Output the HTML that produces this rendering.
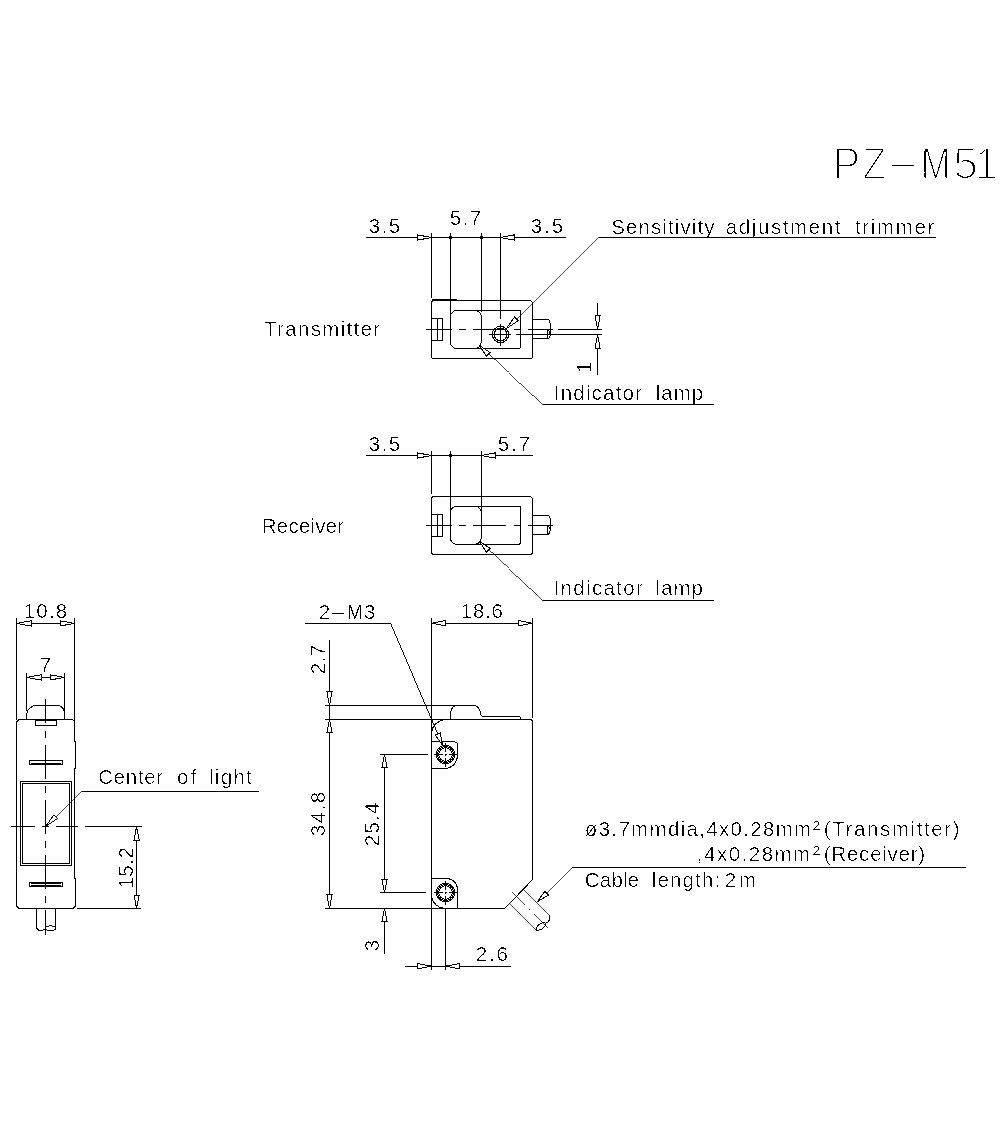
<!DOCTYPE html>
<html><head><meta charset="utf-8"><title>PZ-M51</title>
<style>
html,body{margin:0;padding:0;background:#fff}
svg{display:block}
.g line,.g path,.g circle,.g polygon,.g ellipse{stroke:#000;fill:none}
.g polygon{fill:#fff}
text{font-family:"Liberation Sans",sans-serif;fill:#000;stroke:#fff;stroke-width:0.62px;paint-order:fill stroke}
text.tt{stroke-width:2.5px}
</style></head><body>
<svg width="1000" height="1122" viewBox="0 0 1000 1122">
<rect x="0" y="0" width="1000" height="1122" fill="#fff"/>
<defs><filter id="th" x="0" y="0" width="1000" height="1122" filterUnits="userSpaceOnUse" color-interpolation-filters="sRGB">
<feColorMatrix type="matrix" values="0.33 0.34 0.33 0 0 0.33 0.34 0.33 0 0 0.33 0.34 0.33 0 0 0 0 0 1 0"/>
<feComponentTransfer><feFuncR type="discrete" tableValues="0 0 0 1"/><feFuncG type="discrete" tableValues="0 0 0 1"/><feFuncB type="discrete" tableValues="0 0 0 1"/></feComponentTransfer></filter></defs>
<g filter="url(#th)">
<rect x="0" y="0" width="1000" height="1122" fill="#fff"/>
<text class="tt" font-size="44"><tspan x="832.74" y="178.80" textLength="27.71" lengthAdjust="spacingAndGlyphs">P</tspan><tspan x="862.49" y="178.80" textLength="23.96" lengthAdjust="spacingAndGlyphs">Z</tspan><tspan x="883.84" y="176.80" textLength="38.32" lengthAdjust="spacingAndGlyphs">-</tspan><tspan x="920.81" y="178.80" textLength="29.88" lengthAdjust="spacingAndGlyphs">M</tspan><tspan x="952.94" y="178.80" textLength="25.23" lengthAdjust="spacingAndGlyphs">5</tspan><tspan x="975.26" y="178.80" textLength="22.58" lengthAdjust="spacingAndGlyphs">1</tspan></text>
<text class="t" font-size="20.5"><tspan x="318.66" y="618.90">2</tspan><tspan x="328.95" y="619.20" textLength="18.30" lengthAdjust="spacingAndGlyphs">-</tspan><tspan x="346.94" y="618.90" textLength="15.71" lengthAdjust="spacingAndGlyphs">M</tspan><tspan x="364.11" y="618.90">3</tspan></text>
<text class="t" x="368.80" y="232.50" font-size="20.5" textLength="31.40" lengthAdjust="spacing">3.5</text>
<text class="t" x="449.80" y="224.50" font-size="20.5" textLength="31.40" lengthAdjust="spacing">5.7</text>
<text class="t" x="530.80" y="232.50" font-size="20.5" textLength="32.40" lengthAdjust="spacing">3.5</text>
<text class="t" x="611.20" y="233.70" font-size="20.5" textLength="103.40" lengthAdjust="spacing">Sensitivity</text>
<text class="t" x="725.80" y="233.70" font-size="20.5" textLength="114.60" lengthAdjust="spacing">adjustment</text>
<text class="t" x="855.00" y="233.70" font-size="20.5" textLength="79.40" lengthAdjust="spacing">trimmer</text>
<text class="t" x="553.80" y="399.60" font-size="20.5" textLength="88.20" lengthAdjust="spacing">Indicator</text>
<text class="t" x="655.80" y="399.60" font-size="20.5" textLength="47.40" lengthAdjust="spacing">lamp</text>
<text class="t" x="553.60" y="595.40" font-size="20.5" textLength="89.20" lengthAdjust="spacing">Indicator</text>
<text class="t" x="655.60" y="595.40" font-size="20.5" textLength="47.40" lengthAdjust="spacing">lamp</text>
<text class="t" x="264.00" y="335.50" font-size="20.5" textLength="116.20" lengthAdjust="spacing">Transmitter</text>
<text class="t" x="261.80" y="532.50" font-size="20.5" textLength="82.40" lengthAdjust="spacing">Receiver</text>
<text class="t" x="368.80" y="450.50" font-size="20.5" textLength="31.40" lengthAdjust="spacing">3.5</text>
<text class="t" x="497.80" y="450.50" font-size="20.5" textLength="32.20" lengthAdjust="spacing">5.7</text>
<text class="t" x="23.80" y="617.60" font-size="20.5" textLength="43.40" lengthAdjust="spacing">10.8</text>
<text class="t" x="39.80" y="671.80" font-size="20.5">7</text>
<text class="t" x="98.20" y="783.60" font-size="20.5" textLength="65.00" lengthAdjust="spacing">Center</text>
<text class="t" x="177.00" y="783.60" font-size="20.5" textLength="19.40" lengthAdjust="spacing">of</text>
<text class="t" x="209.00" y="783.60" font-size="20.5" textLength="42.80" lengthAdjust="spacing">light</text>
<text class="t" x="460.80" y="617.60" font-size="20.5" textLength="42.20" lengthAdjust="spacing">18.6</text>
<text class="t" x="475.80" y="960.50" font-size="20.5" textLength="32.20" lengthAdjust="spacing">2.6</text>
<text class="t" x="584.80" y="835.70" font-size="20.5" textLength="226.40" lengthAdjust="spacing">ø3.7mmdia,4x0.28mm</text>
<text class="t" x="823.80" y="835.70" font-size="20.5" textLength="135.80" lengthAdjust="spacing">(Transmitter)</text>
<text class="t" x="696.80" y="860.90" font-size="20.5" textLength="113.40" lengthAdjust="spacing">,4x0.28mm</text>
<text class="t" x="823.80" y="860.90" font-size="20.5" textLength="101.40" lengthAdjust="spacing">(Receiver)</text>
<text class="t" x="584.80" y="887.40" font-size="20.5" textLength="54.40" lengthAdjust="spacing">Cable</text>
<text class="t" x="651.80" y="887.40" font-size="20.5" textLength="68.40" lengthAdjust="spacing">length:</text>
<text class="t" x="724.80" y="887.40" font-size="20.5" textLength="31.40" lengthAdjust="spacing">2m</text>
<text class="t" x="812.80" y="835.60" font-size="22.5">²</text>
<text class="t" x="812.80" y="860.80" font-size="22.5">²</text>
<text class="t" transform="translate(591.30 373.00) rotate(-90)" font-size="20.5">1</text>
<text class="t" transform="translate(132.80 888.60) rotate(-90)" font-size="20.5" textLength="41.60" lengthAdjust="spacing">15.2</text>
<text class="t" transform="translate(325.00 674.20) rotate(-90)" font-size="20.5" textLength="29.40" lengthAdjust="spacing">2.7</text>
<text class="t" transform="translate(325.00 836.20) rotate(-90)" font-size="20.5" textLength="44.40" lengthAdjust="spacing">34.8</text>
<text class="t" transform="translate(378.70 846.20) rotate(-90)" font-size="20.5" textLength="43.60" lengthAdjust="spacing">25.4</text>
<text class="t" transform="translate(378.70 951.20) rotate(-90)" font-size="20.5">3</text>
</g>
<g class="g" shape-rendering="crispEdges">
<path d="M431.4,302.1 L432.9,300.6 H530.5 L532.5,302.6 V356.1 Q532.5,358.6 530.0,358.6 H433.9 Q431.4,358.6 431.4,356.1 Z" stroke-width="1" />
<path d="M456.9,310.4 H519.0 Q520.5,310.4 520.5,311.9 V346.5 Q520.5,348.5 518.5,348.5 H456.9" stroke-width="1" />
<path d="M456.9,310.4 H474.8 A6.5,6.5 0 0 1 481.3,316.9 V342.0 A6.5,6.5 0 0 1 474.8,348.5 H456.9 A6.5,6.5 0 0 1 450.4,342.0 V316.9 A6.5,6.5 0 0 1 456.9,310.4 Z" stroke-width="1" />
<path d="M432.2,318.90000000000003 H442.4 V340.3 H432.2 M437.6,318.90000000000003 V340.3" stroke-width="1" />
<path d="M532.5,319.5 H547 Q550,319.5 550,322.5 V335.5 Q550,338.5 547,338.5 H532.5" stroke-width="1" />
<path d="M547,329.6 V338.5 M547,330.1 Q549.6,330.6 549.8,333.6" stroke-width="1" />
<path d="M431.4,497.90000000000003 L432.9,496.40000000000003 H530.5 L532.5,498.40000000000003 V551.9000000000001 Q532.5,554.4000000000001 530.0,554.4000000000001 H433.9 Q431.4,554.4000000000001 431.4,551.9000000000001 Z" stroke-width="1" />
<path d="M456.9,506.2 H519.0 Q520.5,506.2 520.5,507.7 V542.3 Q520.5,544.3 518.5,544.3 H456.9" stroke-width="1" />
<path d="M456.9,506.2 H474.8 A6.5,6.5 0 0 1 481.3,512.7 V537.8 A6.5,6.5 0 0 1 474.8,544.3 H456.9 A6.5,6.5 0 0 1 450.4,537.8 V512.7 A6.5,6.5 0 0 1 456.9,506.2 Z" stroke-width="1" />
<path d="M432.2,514.7 H442.4 V536.1000000000001 H432.2 M437.6,514.7 V536.1000000000001" stroke-width="1" />
<path d="M532.5,515.3000000000001 H547 Q550,515.3000000000001 550,518.3000000000001 V531.3000000000001 Q550,534.3000000000001 547,534.3000000000001 H532.5" stroke-width="1" />
<path d="M547,525.4000000000001 V534.3000000000001 M547,525.9000000000001 Q549.6,526.4000000000001 549.8,529.4000000000001" stroke-width="1" />
<line x1="432.40" y1="299.70" x2="456.60" y2="299.70" stroke-width="1.8" />
<line x1="426.00" y1="329.60" x2="451.50" y2="329.60" stroke-width="1" />
<line x1="459.00" y1="329.60" x2="465.80" y2="329.60" stroke-width="1" />
<line x1="473.20" y1="329.60" x2="506.20" y2="329.60" stroke-width="1" />
<line x1="514.40" y1="329.60" x2="520.00" y2="329.60" stroke-width="1" />
<line x1="528.00" y1="329.60" x2="552.60" y2="329.60" stroke-width="1" />
<line x1="557.50" y1="329.60" x2="602.00" y2="329.60" stroke-width="1" />
<line x1="426.00" y1="525.40" x2="451.50" y2="525.40" stroke-width="1" />
<line x1="459.00" y1="525.40" x2="465.80" y2="525.40" stroke-width="1" />
<line x1="473.20" y1="525.40" x2="506.20" y2="525.40" stroke-width="1" />
<line x1="513.80" y1="525.40" x2="519.80" y2="525.40" stroke-width="1" />
<line x1="528.00" y1="525.40" x2="552.80" y2="525.40" stroke-width="1" />
<circle cx="500.50" cy="334.50" r="8.10" stroke-width="1" />
<circle cx="500.50" cy="334.50" r="6.30" stroke-width="1" />
<line x1="489.00" y1="334.50" x2="510.50" y2="334.50" stroke-width="1" />
<line x1="500.50" y1="324.00" x2="500.50" y2="346.00" stroke-width="1" />
<line x1="516.00" y1="334.50" x2="602.00" y2="334.50" stroke-width="1" />
<line x1="366.00" y1="237.50" x2="417.70" y2="237.50" stroke-width="1" />
<line x1="431.30" y1="237.50" x2="500.60" y2="237.50" stroke-width="1" />
<line x1="514.20" y1="237.50" x2="566.00" y2="237.50" stroke-width="1" />
<polygon points="431.30,237.50 417.80,234.90 417.80,240.10" fill="#fff"/>
<polygon points="500.60,237.50 514.10,240.10 514.10,234.90" fill="#fff"/>
<circle cx="450.40" cy="237.50" r="1.40" stroke-width="1" fill="#000"/>
<circle cx="481.60" cy="237.50" r="1.40" stroke-width="1" fill="#000"/>
<line x1="431.30" y1="232.50" x2="431.30" y2="298.00" stroke-width="1" />
<line x1="450.40" y1="232.50" x2="450.40" y2="316.50" stroke-width="1" />
<line x1="481.50" y1="232.50" x2="481.50" y2="312.00" stroke-width="1" />
<line x1="500.50" y1="232.50" x2="500.50" y2="318.50" stroke-width="1" />
<line x1="597.60" y1="302.50" x2="597.60" y2="314.80" stroke-width="1" />
<line x1="597.60" y1="348.50" x2="597.60" y2="374.50" stroke-width="1" />
<polygon points="597.60,329.30 600.20,315.30 595.00,315.30" fill="#fff"/>
<polygon points="597.60,334.80 595.00,348.80 600.20,348.80" fill="#fff"/>
<line x1="599.00" y1="237.50" x2="935.60" y2="237.50" stroke-width="1" />
<line x1="599.00" y1="237.50" x2="516.30" y2="319.30" stroke-width="0.711" />
<polygon points="506.50,328.50 518.18,320.70 514.54,316.98" fill="#fff"/>
<line x1="487.50" y1="353.50" x2="542.50" y2="404.25" stroke-width="0.735" />
<line x1="542.50" y1="404.25" x2="713.50" y2="404.25" stroke-width="1" />
<polygon points="479.20,345.30 486.41,356.19 490.09,352.51" fill="#fff"/>
<line x1="487.50" y1="549.30" x2="542.50" y2="600.05" stroke-width="0.735" />
<line x1="542.50" y1="600.05" x2="713.50" y2="600.05" stroke-width="1" />
<polygon points="479.20,541.10 486.41,551.99 490.09,548.31" fill="#fff"/>
<line x1="366.00" y1="455.50" x2="417.70" y2="455.50" stroke-width="1" />
<line x1="431.30" y1="455.50" x2="481.60" y2="455.50" stroke-width="1" />
<line x1="495.20" y1="455.50" x2="532.50" y2="455.50" stroke-width="1" />
<polygon points="431.30,455.50 417.80,452.90 417.80,458.10" fill="#fff"/>
<polygon points="481.60,455.50 495.10,458.10 495.10,452.90" fill="#fff"/>
<circle cx="450.40" cy="455.50" r="1.40" stroke-width="1" fill="#000"/>
<line x1="431.30" y1="451.00" x2="431.30" y2="493.50" stroke-width="1" />
<line x1="450.40" y1="451.00" x2="450.40" y2="512.50" stroke-width="1" />
<line x1="481.50" y1="451.00" x2="481.50" y2="512.00" stroke-width="1" />
<path d="M16.5,722.0 L19.0,719.5 H72.0 L74.5,721.0 V741.5 H75.5 V768.5 H74.5 V878.5 H75.5 V906.0 L73.0,908.5 H19.0 L16.5,906.0 Z" stroke-width="1" />
<path d="M26.5,719.5 V716 C26.8,712.5 27.6,709.8 29.2,708.6 L33.4,705.5 H57.2 C61,705.8 64,708.6 64.5,712.5" stroke-width="1" />
<path d="M35.5,719.5 V725.5 H56.5 V719.5" stroke-width="1" />
<line x1="35.50" y1="720.50" x2="56.50" y2="720.50" stroke-width="1" />
<path d="M29.5,760.5 H62.5 V764.5 H29.5 Z" stroke-width="1" />
<line x1="31.00" y1="763.50" x2="61.00" y2="763.50" stroke-width="1" />
<path d="M29.5,882.5 H62.5 V886.5 H29.5 Z" stroke-width="1" />
<line x1="31.00" y1="883.50" x2="61.00" y2="883.50" stroke-width="1" />
<line x1="31.00" y1="885.50" x2="61.00" y2="885.50" stroke-width="1" />
<path d="M20.5,781.5 H71.5 V865.5 H20.5 Z M22.5,783.5 H69.5 V863.5 H22.5 Z" stroke-width="1" />
<path d="M36.5,908.5 V926.5 C36.6,929.6 38.5,930.5 41,930.5 C43.5,930.5 45,929.3 45.6,928.2 M55.5,908.5 V928.2" stroke-width="1" />
<ellipse cx="50.5" cy="928.3" rx="4.9" ry="2.4" stroke-width="1"/>
<line x1="45.50" y1="699.00" x2="45.50" y2="723.40" stroke-width="1" />
<line x1="45.50" y1="731.40" x2="45.50" y2="737.80" stroke-width="1" />
<line x1="45.50" y1="745.00" x2="45.50" y2="778.90" stroke-width="1" />
<line x1="45.50" y1="786.00" x2="45.50" y2="792.70" stroke-width="1" />
<line x1="45.50" y1="800.30" x2="45.50" y2="833.70" stroke-width="1" />
<line x1="45.50" y1="840.90" x2="45.50" y2="848.00" stroke-width="1" />
<line x1="45.50" y1="855.10" x2="45.50" y2="888.60" stroke-width="1" />
<line x1="45.50" y1="896.20" x2="45.50" y2="903.00" stroke-width="1" />
<line x1="45.50" y1="910.20" x2="45.50" y2="935.00" stroke-width="1" />
<line x1="11.00" y1="826.50" x2="34.70" y2="826.50" stroke-width="1" />
<line x1="42.30" y1="826.50" x2="49.00" y2="826.50" stroke-width="1" />
<line x1="56.10" y1="826.50" x2="78.40" y2="826.50" stroke-width="1" />
<line x1="84.70" y1="826.50" x2="141.50" y2="826.50" stroke-width="1" />
<line x1="16.50" y1="618.00" x2="16.50" y2="720.00" stroke-width="1" />
<line x1="74.50" y1="618.00" x2="74.50" y2="720.00" stroke-width="1" />
<line x1="16.40" y1="623.40" x2="74.60" y2="623.40" stroke-width="1" />
<polygon points="16.50,623.40 31.00,626.00 31.00,620.80" fill="#fff"/>
<polygon points="74.50,623.40 60.00,620.80 60.00,626.00" fill="#fff"/>
<line x1="26.50" y1="673.00" x2="26.50" y2="710.50" stroke-width="1" />
<line x1="64.50" y1="673.00" x2="64.50" y2="719.50" stroke-width="1" />
<line x1="26.40" y1="677.40" x2="64.40" y2="677.40" stroke-width="1" />
<polygon points="26.50,677.40 41.00,680.00 41.00,674.80" fill="#fff"/>
<polygon points="64.50,677.40 50.00,674.80 50.00,680.00" fill="#fff"/>
<line x1="77.00" y1="908.50" x2="141.00" y2="908.50" stroke-width="1" />
<line x1="136.60" y1="826.50" x2="136.60" y2="908.50" stroke-width="1" />
<polygon points="136.60,826.50 134.00,840.00 139.20,840.00" fill="#fff"/>
<polygon points="136.60,908.50 139.20,895.00 134.00,895.00" fill="#fff"/>
<line x1="81.60" y1="791.40" x2="258.80" y2="791.40" stroke-width="1" />
<line x1="81.60" y1="791.40" x2="54.00" y2="818.50" stroke-width="0.714" />
<polygon points="45.80,826.20 57.56,818.52 53.95,814.77" fill="#fff"/>
<line x1="431.60" y1="618.00" x2="431.60" y2="970.00" stroke-width="1" />
<line x1="532.50" y1="618.00" x2="532.50" y2="717.70" stroke-width="1" />
<path d="M325,719.3 H529.5 Q532.5,719.3 532.5,722.3 V879.6 L505,908.3 H325" stroke-width="1" />
<line x1="325.00" y1="705.30" x2="457.00" y2="705.30" stroke-width="1" />
<path d="M450.6,719.3 V714 Q450.8,705.3 458,705.3 H472.5 Q479,705.5 480.3,712 Q480.8,716.3 483,716.3 H518.3 Q520.5,716.5 520.7,719.3" stroke-width="1" />
<path d="M431.6,733 Q432.3,722.5 445,719.3" stroke-width="1" />
<path d="M431.6,741.5 H454.5 L457.5,743.5 V756.2 A13,13 0 0 1 444,768.5 H431.6" stroke-width="1" />
<path d="M431.6,878.5 H447 A10.8,10.8 0 0 1 457.5,889.5 V908.3 M431.6,897 A15,15 0 0 0 443.5,908.3" stroke-width="1" />
<circle cx="445.50" cy="754.50" r="6.75" stroke-width="1" />
<circle cx="445.50" cy="754.50" r="8.00" stroke-width="1" />
<circle cx="445.50" cy="754.50" r="9.25" stroke-width="1" />
<line x1="434.20" y1="754.50" x2="442.90" y2="754.50" stroke-width="1" />
<line x1="444.60" y1="754.50" x2="447.10" y2="754.50" stroke-width="1" />
<line x1="449.10" y1="754.50" x2="457.70" y2="754.50" stroke-width="1" />
<line x1="445.50" y1="743.00" x2="445.50" y2="751.90" stroke-width="1" />
<line x1="445.50" y1="753.90" x2="445.50" y2="755.50" stroke-width="1" />
<line x1="445.50" y1="757.50" x2="445.50" y2="767.00" stroke-width="1" />
<circle cx="445.50" cy="892.50" r="6.75" stroke-width="1" />
<circle cx="445.50" cy="892.50" r="8.00" stroke-width="1" />
<circle cx="445.50" cy="892.50" r="9.25" stroke-width="1" />
<line x1="434.20" y1="892.50" x2="442.90" y2="892.50" stroke-width="1" />
<line x1="444.60" y1="892.50" x2="447.10" y2="892.50" stroke-width="1" />
<line x1="449.10" y1="892.50" x2="457.70" y2="892.50" stroke-width="1" />
<line x1="445.50" y1="881.00" x2="445.50" y2="889.90" stroke-width="1" />
<line x1="445.50" y1="891.90" x2="445.50" y2="893.50" stroke-width="1" />
<line x1="445.50" y1="895.50" x2="445.50" y2="905.00" stroke-width="1" />
<line x1="431.60" y1="623.20" x2="532.50" y2="623.20" stroke-width="1" />
<polygon points="431.60,623.20 445.60,625.80 445.60,620.60" fill="#fff"/>
<polygon points="532.50,623.20 518.50,620.60 518.50,625.80" fill="#fff"/>
<line x1="305.00" y1="623.00" x2="390.50" y2="623.00" stroke-width="1" />
<line x1="390.50" y1="623.00" x2="437.80" y2="734.00" stroke-width="0.92" />
<polygon points="442.60,745.50 440.16,732.97 435.36,734.98" fill="#fff"/>
<line x1="329.50" y1="640.00" x2="329.50" y2="692.00" stroke-width="1" />
<line x1="329.50" y1="705.30" x2="329.50" y2="719.30" stroke-width="1" />
<line x1="329.50" y1="733.00" x2="329.50" y2="894.50" stroke-width="1" />
<polygon points="329.50,705.30 332.10,691.80 326.90,691.80" fill="#fff"/>
<polygon points="329.50,719.30 326.90,732.80 332.10,732.80" fill="#fff"/>
<polygon points="329.50,908.30 332.10,894.80 326.90,894.80" fill="#fff"/>
<line x1="379.50" y1="754.50" x2="428.00" y2="754.50" stroke-width="1" />
<line x1="379.50" y1="892.50" x2="426.00" y2="892.50" stroke-width="1" />
<line x1="384.50" y1="768.00" x2="384.50" y2="878.80" stroke-width="1" />
<polygon points="384.50,754.40 381.90,767.90 387.10,767.90" fill="#fff"/>
<polygon points="384.50,892.50 387.10,879.00 381.90,879.00" fill="#fff"/>
<polygon points="384.50,908.30 381.90,921.80 387.10,921.80" fill="#fff"/>
<line x1="384.50" y1="922.00" x2="384.50" y2="954.30" stroke-width="1" />
<line x1="445.50" y1="908.30" x2="445.50" y2="970.00" stroke-width="1" />
<line x1="405.00" y1="966.20" x2="417.80" y2="966.20" stroke-width="1" />
<line x1="431.60" y1="966.20" x2="445.50" y2="966.20" stroke-width="1" />
<line x1="459.30" y1="966.20" x2="511.30" y2="966.20" stroke-width="1" />
<polygon points="431.60,966.20 417.60,963.60 417.60,968.80" fill="#fff"/>
<polygon points="445.50,966.20 459.50,968.80 459.50,963.60" fill="#fff"/>
<line x1="523.60" y1="889.60" x2="549.60" y2="915.40" stroke-width="0.71" />
<line x1="509.80" y1="904.00" x2="536.20" y2="930.20" stroke-width="0.71" />
<path d="M549.6,915.4 Q551.5,921 545,923.5 M536.2,930.2 Q536,926 541,923.5 Q546,921.5 545.5,924.5 Q544.5,928.5 539.5,930 Q537,930.5 536.2,930.2" stroke-width="1" />
<line x1="512.20" y1="892.00" x2="525.32" y2="905.04" stroke-width="0.709" />
<line x1="529.22" y1="908.92" x2="530.28" y2="909.98" stroke-width="0.709" />
<line x1="534.18" y1="913.86" x2="548.36" y2="927.96" stroke-width="0.709" />
<line x1="572.20" y1="867.50" x2="966.00" y2="867.50" stroke-width="1" />
<line x1="572.20" y1="867.50" x2="546.40" y2="893.20" stroke-width="0.708" />
<polygon points="537.40,901.60 548.36,895.05 544.84,891.22" fill="#fff"/>
</g>
</svg>
</body></html>
